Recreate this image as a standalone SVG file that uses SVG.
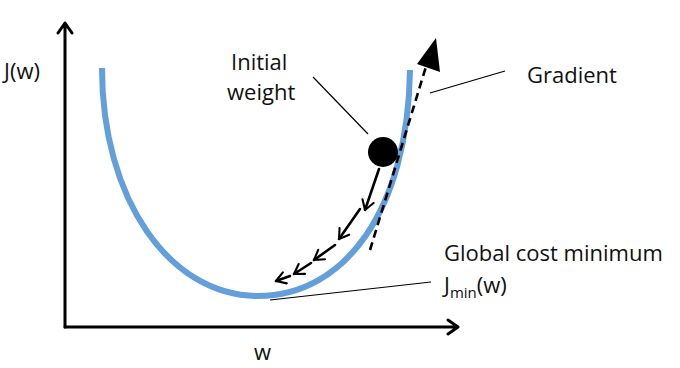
<svg xmlns="http://www.w3.org/2000/svg" width="680" height="368" viewBox="0 0 680 368">
<style>
.t{font-family:"Open Sans","Liberation Sans",sans-serif;font-size:22px;fill:#111}
.ax{fill:none;stroke:#000;stroke-width:3;stroke-linecap:round;stroke-linejoin:round}
.lead{stroke:#000;stroke-width:1.2;fill:none}
.step{fill:none;stroke:#000;stroke-width:2.6;stroke-linecap:round;stroke-linejoin:round}
</style>
<defs>
<marker id="chev" viewBox="0 0 12 12" refX="10" refY="6" markerWidth="5.4" markerHeight="5.4" orient="auto" markerUnits="strokeWidth">
<path d="M2,1 L10,6 L2,11" fill="none" stroke="#000" stroke-width="1.8" stroke-linecap="round" stroke-linejoin="round"/>
</marker>
</defs>
<g id="axes">
<path class="ax" d="M65,327 L65,23 M58,33 L65,23 L72,33"/>
<path class="ax" d="M65,327 L458,327 M448,320 L458,327 L448,334"/>
</g>
<g id="curve">
<path d="M102,68 C102,200 170,296 258,296 C 345,296 408,210 410,70" fill="none" stroke="#629fdb" stroke-width="6"/>
</g>
<g id="connectors">
<path class="lead" d="M313,77 L368,134"/>
<path class="lead" d="M430,93 L505,71"/>
<path class="lead" d="M270,300 L431,282"/>
<path d="M370,250 L428,60" fill="none" stroke="#000" stroke-width="2.6" stroke-dasharray="8,5"/>
<polygon points="436,38 417,64 440,72" fill="#000"/>
<path class="step" d="M379,169 L365,210" marker-end="url(#chev)"/>
<path class="step" d="M360,209 L339,239" marker-end="url(#chev)"/>
<path class="step" d="M335,245 L314,260" marker-end="url(#chev)"/>
<path class="step" d="M311,263 L294,274" marker-end="url(#chev)"/>
<path class="step" d="M290,276 L276,281" marker-end="url(#chev)"/>
</g>
<g id="initial-weight">
<circle cx="383" cy="152" r="15" fill="#000"/>
<text class="t" x="231" y="70">Initial</text>
<text class="t" x="227" y="100">weight</text>
</g>
<g id="gradient">
<text class="t" x="527" y="83">Gradient</text>
</g>
<g id="minimum">
<text class="t" x="444" y="261">Global cost minimum</text>
<text class="t" x="444" y="293">J<tspan font-size="15" dy="5">min</tspan><tspan dy="-5">(w)</tspan></text>
</g>
<g id="labels">
<text class="t" x="4" y="79">J(w)</text>
<text class="t" x="254" y="360">w</text>
</g>
</svg>
